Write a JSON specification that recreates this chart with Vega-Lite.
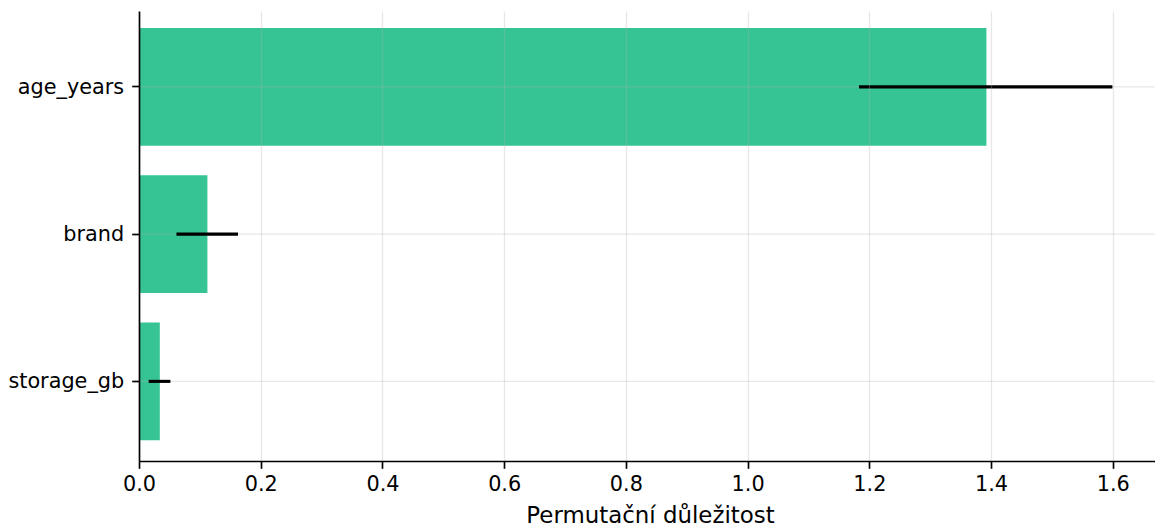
{
  "$schema": "https://vega.github.io/schema/vega-lite/v6.json",
  "width": 1016,
  "height": 450,
  "autosize": {"type": "none"},
  "padding": {"left": 139, "top": 11, "right": 0, "bottom": 69},
  "background": "white",
  "config": {
    "view": {"stroke": null},
    "font": "DejaVu Sans"
  },
  "data": {
    "values": [
      {"feature": "age_years", "importance": 1.3924, "lo": 1.1831, "hi": 1.5994},
      {"feature": "brand", "importance": 0.1124, "lo": 0.0615, "hi": 0.1627},
      {"feature": "storage_gb", "importance": 0.0342, "lo": 0.0159, "hi": 0.0516}
    ]
  },
  "encoding": {
    "y": {
      "field": "feature",
      "type": "nominal",
      "sort": null,
      "scale": {"paddingInner": 0.2, "paddingOuter": 0.128, "align": 0.45},
      "axis": {
        "title": null,
        "bandPosition": 0.5,
        "domainColor": "black",
        "domainWidth": 1.67,
        "tickColor": "black",
        "tickWidth": 1.67,
        "tickSize": 7.3,
        "labelFont": "DejaVu Sans",
        "labelFontSize": 20.8,
        "labelColor": "black",
        "labelPadding": 8,
        "labelOffset": 1,
        "grid": false,
        "zindex": 1
      }
    }
  },
  "layer": [
    {
      "mark": {"type": "bar", "color": "#36c495"},
      "encoding": {
        "x": {
          "field": "importance",
          "type": "quantitative",
          "scale": {"domain": [0, 1.6694], "nice": false, "zero": true},
          "axis": {
            "title": "Permutační důležitost",
            "titleFont": "DejaVu Sans",
            "titleFontSize": 22.9,
            "titleFontWeight": "normal",
            "titleColor": "black",
            "titlePadding": 10,
            "titleX": 511,
            "values": [0, 0.2, 0.4, 0.6, 0.8, 1.0, 1.2, 1.4, 1.6],
            "format": ".1f",
            "domainColor": "black",
            "domainWidth": 1.67,
            "tickColor": "black",
            "tickWidth": 1.67,
            "tickSize": 7.3,
            "labelFont": "DejaVu Sans",
            "labelFontSize": 20.8,
            "labelColor": "black",
            "labelPadding": 6,
            "labelFlush": false,
            "grid": true,
            "gridColor": "#b0b0b0",
            "gridOpacity": 0.3,
            "gridWidth": 1.3,
            "zindex": 1
          }
        }
      }
    },
    {
      "description": "horizontal grid line through each feature row, drawn over the bars but under the error bars",
      "mark": {"type": "rule", "color": "#b0b0b0", "opacity": 0.3, "strokeWidth": 1.3},
      "encoding": {}
    },
    {
      "mark": {"type": "rule", "color": "black", "strokeWidth": 3.1},
      "encoding": {
        "x": {"field": "lo", "type": "quantitative"},
        "x2": {"field": "hi"}
      }
    }
  ]
}
